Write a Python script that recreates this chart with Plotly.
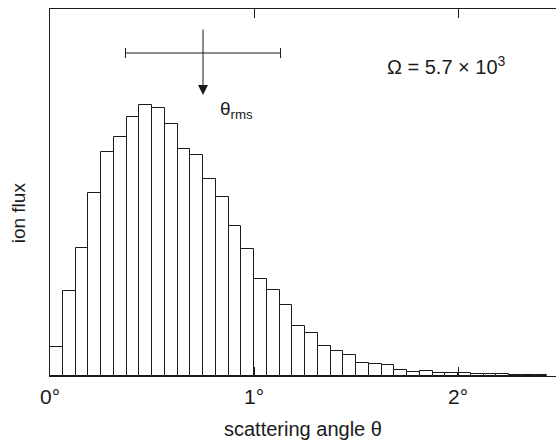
import numpy as np
import plotly.graph_objects as go

# Data (arbitrary flux units)
bin_width = 0.0625  # degrees
flux = [29, 85, 128, 183, 224, 239, 259, 271, 268, 252, 227, 221, 197, 179,
        150, 127, 97, 86, 71, 50, 43, 30, 25, 21, 13, 12, 11, 6, 4.5, 5,
        3.5, 3, 3, 2, 1.7, 2.2, 1.3, 1.0, 0.8]
tick_vals = [0, 1, 2]
tick_text = ["0°", "1°", "2°"]
theta_rms = 0.75
theta_spread = 0.38
cross_y = 323
cross_top = 348
arrow_tip = 281
cap_half = 5

centers = (np.arange(len(flux)) + 0.5) * bin_width
ink = "#1a1a1a"
font = dict(family="Liberation Sans, Arial, sans-serif", size=18, color=ink)

fig = go.Figure()
fig.add_trace(go.Bar(
    x=centers, y=flux, width=bin_width,
    marker=dict(color="white", line=dict(color=ink, width=1)),
    showlegend=False, hoverinfo="skip"))

shapes = [
    dict(type="line", xref="x", yref="y", x0=theta_rms - theta_spread, x1=theta_rms + theta_spread,
         y0=cross_y, y1=cross_y, line=dict(color=ink, width=1)),
    dict(type="line", xref="x", yref="y", x0=theta_rms - theta_spread, x1=theta_rms - theta_spread,
         y0=cross_y - cap_half, y1=cross_y + cap_half, line=dict(color=ink, width=1)),
    dict(type="line", xref="x", yref="y", x0=theta_rms + theta_spread, x1=theta_rms + theta_spread,
         y0=cross_y - cap_half, y1=cross_y + cap_half, line=dict(color=ink, width=1)),
]

annotations = [
    dict(x=theta_rms, y=arrow_tip, ax=theta_rms, ay=cross_top, xref="x", yref="y",
         axref="x", ayref="y", text="", showarrow=True, arrowhead=2, arrowsize=2,
         arrowwidth=1, arrowcolor=ink),
    dict(x=theta_rms + 0.075, y=arrow_tip - 15, xref="x", yref="y", text="θ<sub>rms</sub>",
         showarrow=False, xanchor="left", yanchor="middle", font=dict(font, size=19)),
    dict(x=1.64, y=311, xref="x", yref="y", text="Ω = 5.7 × 10<sup>3</sup>",
         showarrow=False, xanchor="left", yanchor="middle", font=dict(font, size=20)),
    dict(x=0.5, y=-0.145, xref="paper", yref="paper", text="scattering angle θ",
         showarrow=False, xanchor="center", yanchor="middle", font=dict(font, size=20)),
    dict(x=-0.062, y=0.445, xref="paper", yref="paper", text="ion flux", textangle=-90,
         showarrow=False, xanchor="center", yanchor="middle", font=dict(font, size=19)),
]

fig.update_layout(
    width=556, height=441,
    margin=dict(l=50, r=0, t=9, b=65),
    paper_bgcolor="white", plot_bgcolor="white",
    bargap=0, shapes=shapes, annotations=annotations,
    xaxis=dict(range=[0, 2.48], tickvals=tick_vals, ticktext=tick_text,
               ticks="inside", ticklen=9, tickwidth=1, tickcolor=ink,
               showline=True, linecolor=ink, linewidth=1, mirror="ticks",
               showgrid=False, zeroline=False, tickfont=dict(font, size=21),
               ticklabelstandoff=2),
    yaxis=dict(range=[0, 367], showticklabels=False, ticks="", showline=True,
               linecolor=ink, linewidth=1, showgrid=False, zeroline=False),
)

fig.write_html("out.html")
